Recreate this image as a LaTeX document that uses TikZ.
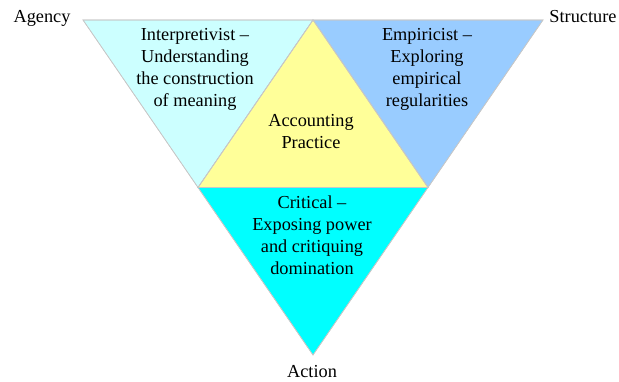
\documentclass[tikz,border=0pt]{standalone}
\usepackage{fontspec}
\setmainfont{Liberation Serif}
\begin{document}
\begin{tikzpicture}[x=1pt,y=-1pt,
  tri/.style={draw=black!22, line width=0.6pt, line join=miter},
  lbl/.style={font=\fontsize{18.3}{22}\selectfont, align=center, inner sep=0pt, anchor=north},
  corner/.style={font=\fontsize{18.3}{22}\selectfont, inner sep=0pt, anchor=base}]
\useasboundingbox (0,0) rectangle (619,381);
% corner points of the large inverted triangle and its midpoints
\coordinate (tl) at (83,20);
\coordinate (tr) at (543,20);
\coordinate (bt) at (313,355);
\coordinate (mt) at (313,20);
\coordinate (ml) at (198,187.5);
\coordinate (mr) at (428,187.5);
% four sub-triangles
\fill[tri, fill={rgb,255:red,204;green,255;blue,255}] (tl) -- (mt) -- (ml) -- cycle;
\fill[tri, fill={rgb,255:red,153;green,204;blue,255}] (mt) -- (tr) -- (mr) -- cycle;
\fill[tri, fill={rgb,255:red,0;green,255;blue,255}] (ml) -- (mr) -- (bt) -- cycle;
\fill[tri, fill={rgb,255:red,255;green,255;blue,153}] (mt) -- (mr) -- (ml) -- cycle;
\draw[tri] (tl) -- (mt) -- (ml) -- cycle;
\draw[tri] (mt) -- (tr) -- (mr) -- cycle;
\draw[tri] (ml) -- (mr) -- (bt) -- cycle;
\draw[tri] (mt) -- (mr) -- (ml) -- cycle;
% texts
\node[lbl] (interp) at (195,28) {Interpretivist --\\Understanding\\the construction\\of meaning};
\node[lbl] (empir) at (427,28) {Empiricist --\\Exploring\\empirical\\regularities};
\node[lbl] (acct) at (311,114.5) {Accounting\\Practice};
\node[lbl] (crit) at (312,196) {Critical --\\Exposing power\\and critiquing\\domination};
\node[corner] (agency) at (42,22) {Agency};
\node[corner] (struct) at (583,22) {Structure};
\node[corner] (action) at (312,377) {Action};
\end{tikzpicture}
\end{document}
